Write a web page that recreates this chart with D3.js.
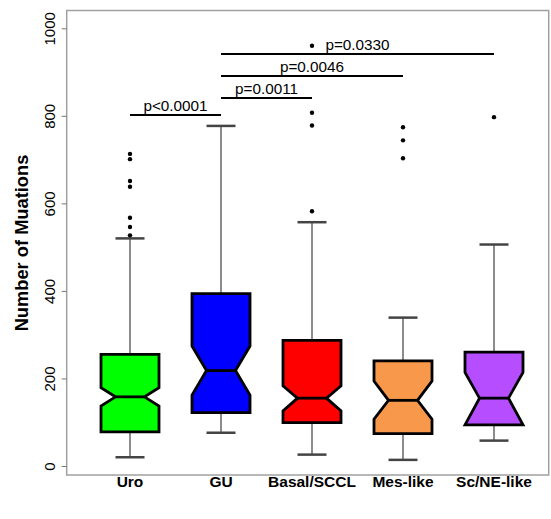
<!DOCTYPE html>
<html><head><meta charset="utf-8">
<script src="https://cdn.jsdelivr.net/npm/d3@7"></script>
<style>html,body{margin:0;padding:0;background:#fff;}</style>
</head><body>
<script>
const categories = ["Uro","GU","Basal/SCCL","Mes-like","Sc/NE-like"];
const lowerWhisker = [20, 76, 26, 14, 58];
const q1 = [78, 122, 99, 74, 94];
const notchLow = [137, 162, 126, 107, 94];
const median = [158, 218, 155, 150, 155];
const notchHigh = [179, 274, 183, 194, 214];
const q3 = [255, 394, 287, 240, 260];
const upperWhisker = [520, 777, 557, 339, 506];
const outliers = [[527,546,567,638,651,701,713],[],[582,778,807,960],[703,744,774],[797]];
const colors = ["#00FF00","#0000FF","#FF0000","#F7984A","#B64DFF"];
const yTicks = [0,200,400,600,800,1000];
const compFrom = ["Uro","GU","GU","GU"];
const compTo = ["GU","Basal/SCCL","Mes-like","Sc/NE-like"];
const compLabel = ["p<0.0001","p=0.0011","p=0.0046","p=0.0330"];
const compLevel = [802, 841, 891, 941];

const W = 551, H = 519;
const svg = d3.select("body").append("svg").attr("width", W).attr("height", H);
const font = "'Liberation Sans', Arial, sans-serif";

const y = d3.scaleLinear().domain([0,1000]).range([466, 28.3]);
const x = d3.scalePoint().domain(categories).range([130, 494]);
const bw = 58;

// frame
svg.append("rect").attr("x",66.7).attr("y",10.5).attr("width",482).attr("height",464.5)
  .attr("fill","none").attr("stroke","#a0a0a0").attr("stroke-width",1.5);

// y axis
const yAxis = d3.axisLeft(y).tickValues(yTicks).tickSize(5).tickPadding(0).tickFormat(d3.format("d"));
const ga = svg.append("g").attr("transform","translate(66.7,0)").call(yAxis);
ga.select(".domain").remove();
ga.selectAll(".tick line").attr("stroke","#777").attr("stroke-width",1);
ga.selectAll(".tick text").attr("font-family",font).attr("font-size",15).attr("fill","#000")
  .attr("text-anchor","middle").attr("dy",0)
  .attr("transform", d => `translate(-12,0) rotate(-90)`).attr("x",0).attr("y",0);

svg.append("text").attr("transform",`translate(28,243) rotate(-90)`).attr("text-anchor","middle")
  .attr("font-family",font).attr("font-weight","bold").attr("font-size",18.3).text("Number of Muations");

// category labels
svg.selectAll("text.cat").data(categories).enter().append("text").attr("class","cat")
  .attr("x", d => x(d)).attr("y", 487).attr("text-anchor","middle")
  .attr("font-family",font).attr("font-weight","bold").attr("font-size",15.5).text(d => d);

// boxes
categories.forEach((c,i) => {
  const cx = x(c), hw = bw/2, nw = bw/4;
  const g = svg.append("g");
  g.append("line").attr("x1",cx).attr("x2",cx).attr("y1",y(q3[i])).attr("y2",y(upperWhisker[i]))
    .attr("stroke","#666").attr("stroke-width",1.5);
  g.append("line").attr("x1",cx).attr("x2",cx).attr("y1",y(q1[i])).attr("y2",y(lowerWhisker[i]))
    .attr("stroke","#666").attr("stroke-width",1.5);
  [upperWhisker[i], lowerWhisker[i]].forEach(v => {
    g.append("line").attr("x1",cx-hw/2).attr("x2",cx+hw/2).attr("y1",y(v)).attr("y2",y(v))
      .attr("stroke","#444").attr("stroke-width",2.5);
  });
  const pts = [
    [cx-hw, y(q1[i])], [cx-hw, y(notchLow[i])], [cx-nw, y(median[i])], [cx-hw, y(notchHigh[i])],
    [cx-hw, y(q3[i])], [cx+hw, y(q3[i])], [cx+hw, y(notchHigh[i])], [cx+nw, y(median[i])],
    [cx+hw, y(notchLow[i])], [cx+hw, y(q1[i])]
  ];
  g.append("path").attr("d", d3.line()(pts) + "Z").attr("fill", colors[i])
    .attr("stroke","#000").attr("stroke-width",2.8).attr("stroke-linejoin","miter");
  g.append("line").attr("x1",cx-nw).attr("x2",cx+nw).attr("y1",y(median[i])).attr("y2",y(median[i]))
    .attr("stroke","#000").attr("stroke-width",2.8);
  g.selectAll("circle").data(outliers[i]).enter().append("circle")
    .attr("cx",cx).attr("cy",d=>y(d)).attr("r",2.2).attr("fill","#000");
});

// comparisons
compLabel.forEach((lab,i) => {
  const x1 = x(compFrom[i]), x2 = x(compTo[i]), yy = y(compLevel[i]);
  svg.append("line").attr("x1",x1).attr("x2",x2).attr("y1",yy).attr("y2",yy)
    .attr("stroke","#000").attr("stroke-width",2);
  svg.append("text").attr("x",(x1+x2)/2).attr("y",yy-4).attr("text-anchor","middle")
    .attr("font-family",font).attr("font-size",15.3).text(lab);
});
</script>
</body></html>
